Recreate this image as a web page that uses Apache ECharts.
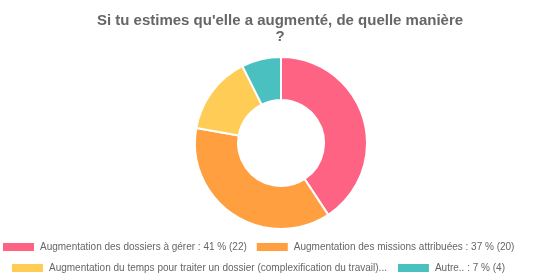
<!DOCTYPE html>
<html><head><meta charset="utf-8">
<script src="https://cdn.jsdelivr.net/npm/echarts@6/dist/echarts.min.js"></script>
<style>html,body{margin:0;padding:0;background:#fff}#c{width:560px;height:280px}</style>
</head><body><div id="c"></div>
<script>
const categories = [
  "Augmentation des dossiers à gérer",
  "Augmentation des missions attribuées",
  "Augmentation du temps pour traiter un dossier (complexification du travail)",
  "Autre.."
];
const values = [22, 20, 8, 4];
const percents = [41, 37, 15, 7];
const colors = ["#FF6384", "#FF9F40", "#FFCD56", "#4BC0C0"];
const titleText = "Si tu estimes qu'elle a augmenté, de quelle manière\n?";

const labelOf = {};
categories.forEach((c, i) => {
  let s = c + " : " + percents[i] + " % (" + values[i] + ")";
  if (i === 2) s = c + "...";
  labelOf[c] = s;
});

const chart = echarts.init(document.getElementById('c'), null, {renderer: 'canvas'});
const legendBase = {
  orient: 'horizontal', icon: 'rect', itemWidth: 33, itemHeight: 10, itemGap: 8, width: 600,
  textStyle: {fontFamily: 'Liberation Sans, Arial, sans-serif', fontSize: 10, color: '#666'},
  formatter: n => labelOf[n], padding: 0, selectedMode: false
};
chart.setOption({
  animation: false,
  color: colors,
  title: {
    text: titleText, left: 'center', top: 8,
    textStyle: {fontFamily: 'Liberation Sans, Arial, sans-serif', fontSize: 15, fontWeight: 'bold', color: '#666', lineHeight: 16}
  },
  legend: [
    Object.assign({}, legendBase, {data: categories.slice(0, 2), left: 1, top: 241}),
    Object.assign({}, legendBase, {data: categories.slice(2, 4), left: 10, top: 262, itemGap: 9})
  ],
  series: [{
    type: 'pie', center: [281, 143], radius: [43, 86], startAngle: 90, clockwise: true,
    label: {show: false}, labelLine: {show: false},
    itemStyle: {borderColor: '#fff', borderWidth: 2},
    emphasis: {disabled: true},
    data: categories.map((c, i) => ({name: c, value: values[i]}))
  }]
});
</script></body></html>
